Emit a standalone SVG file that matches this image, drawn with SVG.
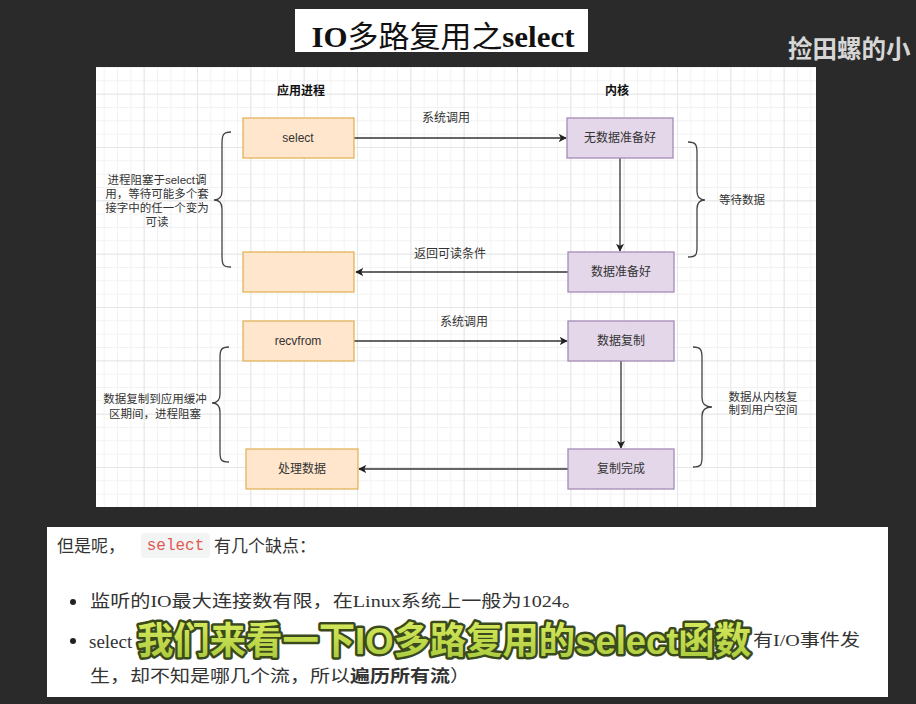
<svg xmlns="http://www.w3.org/2000/svg" width="916" height="704" viewBox="0 0 916 704">
<style>
.sans{font-family:"Liberation Sans","Noto Sans CJK SC",sans-serif;}
.serif{font-family:"Liberation Serif","Noto Sans CJK SC",serif;}
.lbl{font-size:12px;fill:#333;text-anchor:middle;dominant-baseline:central;}
.side{font-size:11.5px;fill:#333;text-anchor:middle;dominant-baseline:central;}
.hdr{font-size:12px;font-weight:bold;fill:#111;text-anchor:middle;dominant-baseline:central;}
.app{fill:#ffe6cc;stroke:#e3b45c;stroke-width:1.3;}
.ker{fill:#e4d7ea;stroke:#a58bb5;stroke-width:1.3;}
.edge{stroke:#333;stroke-width:1.3;fill:none;}
.brace{stroke:#444;stroke-width:1.3;fill:none;}
.body{font-size:17px;fill:#333;dominant-baseline:central;}
</style>
<defs>
<pattern id="gminor" x="90.33" y="40.33" width="13.333" height="13.333" patternUnits="userSpaceOnUse">
<path d="M0,0.5H13.333M0.5,0V13.333" stroke="#f2f2f2" stroke-width="1" fill="none"/>
</pattern>
<pattern id="gmajor" x="90.33" y="40.33" width="53.333" height="53.333" patternUnits="userSpaceOnUse">
<path d="M0,0.5H53.333M0.5,0V53.333" stroke="#e6e6e6" stroke-width="1" fill="none"/>
</pattern>
<marker id="arr" viewBox="0 0 10 10" refX="9" refY="5" markerWidth="8" markerHeight="8" markerUnits="userSpaceOnUse" orient="auto">
<path d="M0,0L10,5L0,10L2.5,5Z" fill="#222"/>
</marker>
<linearGradient id="sub" x1="0" y1="0" x2="0" y2="1">
<stop offset="0" stop-color="#d6ea5c"/>
<stop offset="1" stop-color="#a9c93c"/>
</linearGradient>
</defs>
<rect x="0" y="0" width="916" height="704" fill="#2a2a2a"/>

<g id="title">
<rect x="295" y="9" width="293" height="43" fill="#ffffff"/>
<text x="443" y="47" class="serif" font-size="30" fill="#111" text-anchor="middle" textLength="263" lengthAdjust="spacingAndGlyphs"><tspan font-weight="bold">IO</tspan>多路复用之<tspan font-weight="bold">select</tspan></text>
</g>
<g id="watermark">
<text x="788" y="58" class="sans" font-size="24.5" font-weight="bold" fill="#d6d6d6">捡田螺的小</text>
</g>

<g id="diagram-panel">
<rect x="96" y="67" width="720" height="440" fill="#ffffff"/>
<rect x="96" y="67" width="720" height="440" fill="url(#gminor)"/>
<rect x="96" y="67" width="720" height="440" fill="url(#gmajor)"/>
</g>

<g id="headers">
<text x="301" y="91" class="sans hdr">应用进程</text>
<text x="617" y="91" class="sans hdr">内核</text>
</g>

<g id="connectors">
<line x1="354" y1="138" x2="566" y2="138" class="edge" marker-end="url(#arr)"/>
<text x="446" y="118" class="sans lbl">系统调用</text>
<line x1="620" y1="158" x2="620" y2="251" class="edge" marker-end="url(#arr)"/>
<line x1="568" y1="272" x2="356" y2="272" class="edge" marker-end="url(#arr)"/>
<text x="450" y="254" class="sans lbl">返回可读条件</text>
<line x1="354" y1="341" x2="567" y2="341" class="edge" marker-end="url(#arr)"/>
<text x="464" y="322" class="sans lbl">系统调用</text>
<line x1="621" y1="361" x2="621" y2="448" class="edge" marker-end="url(#arr)"/>
<line x1="568" y1="469" x2="359" y2="469" class="edge" marker-end="url(#arr)"/>
</g>

<g id="node-select">
<rect x="243" y="118" width="111" height="40" class="app"/>
<text x="298" y="138" class="sans lbl">select</text>
</g>
<g id="node-return">
<rect x="243" y="252" width="111" height="40" class="app"/>
</g>
<g id="node-recvfrom">
<rect x="243" y="321" width="111" height="40" class="app"/>
<text x="298" y="341" class="sans lbl">recvfrom</text>
</g>
<g id="node-process">
<rect x="246" y="449" width="112" height="40" class="app"/>
<text x="302" y="469" class="sans lbl">处理数据</text>
</g>
<g id="node-nodata">
<rect x="567" y="118" width="106" height="40" class="ker"/>
<text x="620" y="138" class="sans lbl">无数据准备好</text>
</g>
<g id="node-ready">
<rect x="568" y="252" width="106" height="40" class="ker"/>
<text x="621" y="272" class="sans lbl">数据准备好</text>
</g>
<g id="node-copy">
<rect x="568" y="321" width="106" height="40" class="ker"/>
<text x="621" y="341" class="sans lbl">数据复制</text>
</g>
<g id="node-done">
<rect x="568" y="449" width="106" height="40" class="ker"/>
<text x="621" y="469" class="sans lbl">复制完成</text>
</g>

<g id="brace-left-1">
<path class="brace" d="M231,132 C223,132 222,135 222,144 L222,191 C222,197 219,200 214,200 C219,200 222,203 222,209 L222,256 C222,265 223,267 231,267"/>
<text class="sans side" x="157"><tspan x="157" y="180">进程阻塞于select调</tspan><tspan x="157" y="194">用，等待可能多个套</tspan><tspan x="157" y="208">接字中的任一个变为</tspan><tspan x="157" y="222">可读</tspan></text>
</g>
<g id="brace-right-1">
<path class="brace" d="M688,142 C696,142 697,145 697,153 L697,191 C697,197 700,200 705,200 C700,200 697,203 697,209 L697,247 C697,255 696,257 688,257"/>
<text class="sans side" x="742" y="200">等待数据</text>
</g>
<g id="brace-left-2">
<path class="brace" d="M229,347 C221,347 220,350 220,358 L220,394 C220,400 217,403 212,403 C217,403 220,406 220,412 L220,452 C220,460 221,462 229,462"/>
<text class="sans side"><tspan x="155" y="399">数据复制到应用缓冲</tspan><tspan x="155" y="414">区期间，进程阻塞</tspan></text>
</g>
<g id="brace-right-2">
<path class="brace" d="M693,347 C701,347 702,350 702,358 L702,398 C702,404 705,407 712,407 C705,407 702,410 702,416 L702,457 C702,465 701,467 693,467"/>
<text class="sans side"><tspan x="763" y="397">数据从内核复</tspan><tspan x="763" y="410">制到用户空间</tspan></text>
</g>

<g id="notes">
<rect x="47" y="527" width="841" height="170" fill="#ffffff"/>
<text x="57" y="546" class="serif body">但是呢，</text>
<rect x="141" y="533" width="69" height="25" rx="4" fill="#f3f4f4"/>
<text x="175.5" y="546" font-family="'Liberation Mono',monospace" font-size="16" fill="#e05a54" text-anchor="middle" dominant-baseline="central">select</text>
<text x="214" y="546" class="serif body">有几个缺点：</text>
<circle cx="73" cy="602" r="3" fill="#222"/>
<text x="90" y="601" class="serif body" textLength="492" lengthAdjust="spacingAndGlyphs">监听的IO最大连接数有限，在Linux系统上一般为1024。</text>
<circle cx="73" cy="641" r="3" fill="#222"/>
<text x="89" y="641" class="serif" font-size="19" fill="#333" dominant-baseline="central">select</text>
<text x="753" y="640" class="serif body" textLength="107" lengthAdjust="spacingAndGlyphs">有I/O事件发</text>
<text x="90" y="676" class="serif body" textLength="380" lengthAdjust="spacingAndGlyphs">生，却不知是哪几个流，所以<tspan font-weight="bold">遍历所有流</tspan>）</text>
</g>

<g id="subtitle">
<text x="137" y="654" class="sans" font-size="37" font-weight="bold" fill="url(#sub)" stroke="#3a4a1c" stroke-width="5" stroke-linejoin="round" paint-order="stroke" textLength="614" lengthAdjust="spacingAndGlyphs">我们来看一下IO多路复用的select函数</text>
</g>
</svg>
